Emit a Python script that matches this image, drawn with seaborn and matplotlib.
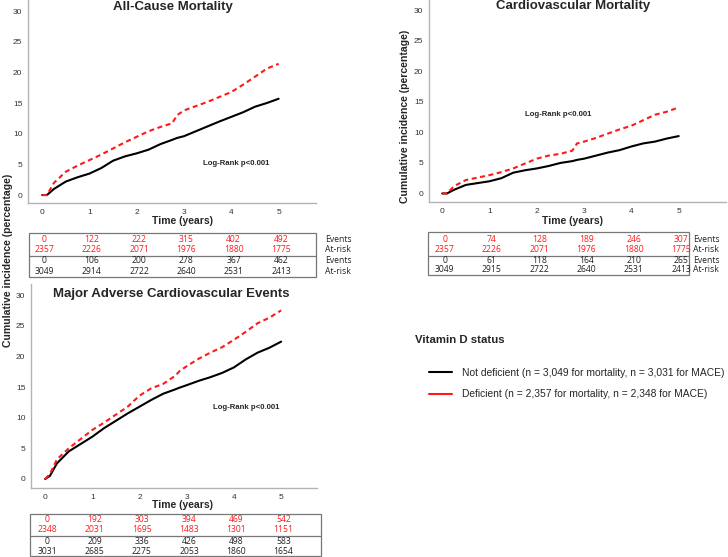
import matplotlib
matplotlib.use("Agg")
import matplotlib.pyplot as plt
import matplotlib.transforms as mtransforms
from matplotlib.lines import Line2D
import seaborn as sns
import pandas as pd

# === Data ===
times = [0, 0.1, 0.25, 0.5, 0.75, 1.0, 1.25, 1.5, 1.75, 2.0, 2.25, 2.5,
         2.75, 2.85, 3.0, 3.25, 3.5, 3.75, 4.0, 4.25, 4.5, 4.75, 5.0]

acm_not_def = [0, 0, 1.0, 2.2, 2.9, 3.5, 4.4, 5.6, 6.3, 6.8, 7.4, 8.3,
               9.0, 9.3, 9.6, 10.4, 11.2, 12.0, 12.75, 13.5, 14.4, 15.0, 15.7]
acm_def = [0, 0, 2.0, 3.8, 4.8, 5.7, 6.6, 7.6, 8.6, 9.5, 10.4, 11.1,
           11.7, 13.0, 13.8, 14.5, 15.2, 16.0, 16.8, 18.0, 19.3, 20.6, 21.4]

cvm_not_def = [0, 0, 0.6, 1.4, 1.7, 2.0, 2.5, 3.4, 3.8, 4.1, 4.5, 5.0,
               5.3, 5.5, 5.7, 6.2, 6.7, 7.1, 7.7, 8.2, 8.5, 9.0, 9.4]
cvm_def = [0, 0, 1.2, 2.2, 2.6, 3.0, 3.5, 4.1, 4.9, 5.7, 6.2, 6.5,
           7.0, 8.2, 8.5, 9.1, 9.8, 10.5, 11.1, 12.0, 12.9, 13.4, 14.1]

mace_not_def = [0, 0.5, 2.55, 4.5, 5.7, 6.9, 8.3, 9.5, 10.7, 11.8, 12.9, 13.9,
                14.6, 14.9, 15.3, 16.0, 16.6, 17.3, 18.2, 19.5, 20.6, 21.4, 22.4]
mace_def = [0, 0.8, 3.2, 5.0, 6.5, 8.0, 9.2, 10.5, 11.8, 13.6, 14.8, 15.5,
            16.8, 17.6, 18.4, 19.6, 20.6, 21.5, 22.7, 24.0, 25.4, 26.3, 27.5]

# risk tables: events / at-risk at years 0..5
acm_def_events = [0, 122, 222, 315, 402, 492]
acm_def_risk = [2357, 2226, 2071, 1976, 1880, 1775]
acm_nd_events = [0, 106, 200, 278, 367, 462]
acm_nd_risk = [3049, 2914, 2722, 2640, 2531, 2413]

cvm_def_events = [0, 74, 128, 189, 246, 307]
cvm_def_risk = [2357, 2226, 2071, 1976, 1880, 1775]
cvm_nd_events = [0, 61, 118, 164, 210, 265]
cvm_nd_risk = [3049, 2915, 2722, 2640, 2531, 2413]

mace_def_events = [0, 192, 303, 394, 469, 542]
mace_def_risk = [2348, 2031, 1695, 1483, 1301, 1151]
mace_nd_events = [0, 209, 336, 426, 498, 583]
mace_nd_risk = [3031, 2685, 2275, 2053, 1860, 1654]

years = [0, 1, 2, 3, 4, 5]
groups = ["Not deficient", "Deficient"]

W, H = 728, 557
RED = "#ff1a1a"
GRAY = "#b3b3b3"

sns.set_style("white")
plt.rcParams["font.family"] = ["Liberation Sans", "DejaVu Sans"]

fig = plt.figure(figsize=(W / 100, H / 100), dpi=100)


def px_box(left, top, right, bottom):
    return [left / W, 1 - bottom / H, (right - left) / W, (bottom - top) / H]


def fy(y):
    return 1 - y / H


def km_panel(box, nd, de, title, title_xy, xlim, ylim, logrank_xy):
    ax = fig.add_axes(box)
    df = pd.DataFrame({
        "time": times + times,
        "pct": nd + de,
        "status": [groups[0]] * len(times) + [groups[1]] * len(times),
    })
    sns.lineplot(data=df, x="time", y="pct", hue="status", style="status",
                 palette={groups[0]: "black", groups[1]: RED},
                 dashes={groups[0]: "", groups[1]: (2.4, 1.7)},
                 linewidth=1.5, legend=False, ax=ax)
    ax.set_xlim(*xlim)
    ax.set_ylim(*ylim)
    ax.set_xticks(years)
    ax.set_yticks([0, 5, 10, 15, 20, 25, 30])
    ax.tick_params(length=0, labelsize=6, labelcolor="#333333", pad=4)
    ax.set_xlabel("")
    ax.set_ylabel("")
    sns.despine(ax=ax)
    for s in ["left", "bottom"]:
        ax.spines[s].set_color(GRAY)
        ax.spines[s].set_linewidth(1.0)
    fig.text(title_xy[0] / W, fy(title_xy[1]), title, fontsize=9.5,
             fontweight="bold", ha="center", va="center")
    ax.text(logrank_xy[0], logrank_xy[1], "Log-Rank p<0.001", fontsize=5.6,
            fontweight="bold", ha="center", va="center")
    return ax


def risk_table(ax, left, top, mid, bottom, right, rows_y, de_ev, de_rk, nd_ev, nd_rk,
               row_labels_x=None):
    rect = plt.Rectangle((left / W, fy(bottom)), (right - left) / W, (bottom - top) / H,
                         transform=fig.transFigure, fill=False, edgecolor="#777777",
                         linewidth=0.9)
    fig.add_artist(rect)
    fig.add_artist(Line2D([left / W, right / W], [fy(mid), fy(mid)],
                          transform=fig.transFigure, color="#777777", linewidth=0.9))
    trans = mtransforms.blended_transform_factory(ax.transData, fig.transFigure)
    rows = [(de_ev, RED), (de_rk, RED), (nd_ev, "#222222"), (nd_rk, "#222222")]
    for (vals, col), y in zip(rows, rows_y):
        for yr, v in zip(years, vals):
            fig.text(yr + 0.05, fy(y), str(v), transform=trans, ha="center",
                     va="center", fontsize=6.2, color=col, family="Open Sans")
    if row_labels_x is not None:
        for lab, y in zip(["Events", "At-risk", "Events", "At-risk"], rows_y):
            fig.text(row_labels_x / W, fy(y), lab, ha="left", va="center",
                     fontsize=6.2, color="#222222", family="Open Sans")


# === All-cause mortality ===
ax1 = km_panel(px_box(28, 0, 316, 203), acm_not_def, acm_def, "All-Cause Mortality",
               (173, 7), (-0.30, 5.79), (-1.3, 31.8), (4.11, 5.2))
fig.text(183 / W, fy(221.5), "Time (years)", ha="center", va="center",
         fontsize=7.5, fontweight="bold")
risk_table(ax1, 29, 233, 256, 277, 316, [239, 250, 261, 271],
           acm_def_events, acm_def_risk, acm_nd_events, acm_nd_risk, row_labels_x=325)

# === Cardiovascular mortality ===
ax2 = km_panel(px_box(429, 0, 726, 202), cvm_not_def, cvm_def, "Cardiovascular Mortality",
               (573, 6), (-0.28, 6.0), (-1.4, 31.7), (2.45, 12.9))
fig.text(405 / W, fy(116), "Cumulative incidence (percentage)", rotation=90,
         ha="center", va="center", fontsize=7.6, fontweight="bold")
fig.text(573 / W, fy(221.5), "Time (years)", ha="center", va="center",
         fontsize=7.5, fontweight="bold")
risk_table(ax2, 428, 232, 256, 275, 689, [239, 250, 261, 270],
           cvm_def_events, cvm_def_risk, cvm_nd_events, cvm_nd_risk, row_labels_x=693)

# === MACE ===
ax3 = km_panel(px_box(31, 284, 317, 488), mace_not_def, mace_def,
               "Major Adverse Cardiovascular Events", (171, 294),
               (-0.30, 5.76), (-1.47, 31.8), (4.27, 11.7))
fig.text(183 / W, fy(505), "Time (years)", ha="center", va="center",
         fontsize=7.5, fontweight="bold")
risk_table(ax3, 30, 514, 536, 556, 321, [520, 530, 541, 551],
           mace_def_events, mace_def_risk, mace_nd_events, mace_nd_risk)

# shared y label for the left column
fig.text(8 / W, fy(260), "Cumulative incidence (percentage)", rotation=90,
         ha="center", va="center", fontsize=7.6, fontweight="bold")

# === Legend ===
fig.text(415 / W, fy(340), "Vitamin D status", ha="left", va="center",
         fontsize=8.2, fontweight="bold")
handles = [Line2D([], [], color="black", linewidth=1.5),
           Line2D([], [], color=RED, linewidth=1.5)]
fig.legend(handles,
           ["Not deficient (n = 3,049 for mortality, n = 3,031 for MACE)",
            "Deficient (n = 2,357 for mortality, n = 2,348 for MACE)"],
           loc="upper left", bbox_to_anchor=(429 / W, fy(368)), frameon=False,
           fontsize=7.4, handlelength=2.2, handletextpad=1.0, borderpad=0,
           borderaxespad=0, labelspacing=1.1)

fig.savefig("out.png", dpi=100)
